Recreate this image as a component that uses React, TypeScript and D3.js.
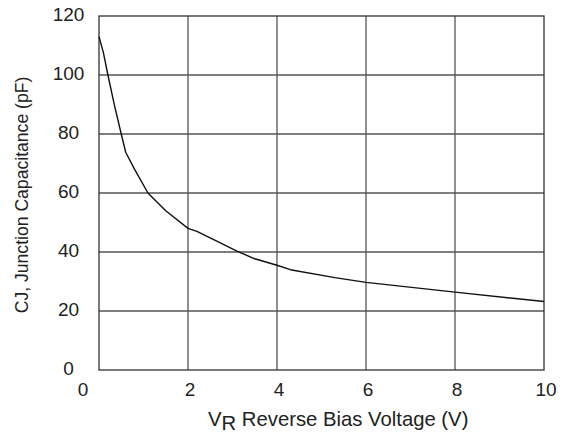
import { scaleLinear, line } from 'd3'

// values
const voltage = [0, 0.1, 0.2, 0.35, 0.5, 0.6, 0.8, 1.1, 1.5, 2, 2.2, 2.6, 3.1, 3.5, 4, 4.3, 5.3, 6, 8, 10]
const capacitance = [113, 107.5, 100, 89.5, 80, 73.8, 68, 60, 54, 48, 47, 44, 40.3, 37.7, 35.5, 34, 31.3, 29.7, 26.4, 23.2]
const xTicks = [0, 2, 4, 6, 8, 10]
const yTicks = [0, 20, 40, 60, 80, 100, 120]

const W = 565
const H = 439
const left = 99
const right = 544
const top = 16
const bottom = 370
const font = 'Liberation Sans, Arial, sans-serif'

const App = () => {
  const x = scaleLinear().domain([0, 10]).range([left, right])
  const y = scaleLinear().domain([0, 120]).range([bottom, top])
  const pts = voltage.map((v, i) => [v, capacitance[i]] as [number, number])
  const path = line<[number, number]>()
    .x((d) => x(d[0]))
    .y((d) => y(d[1]))(pts)

  return (
    <svg
      width={W}
      height={H}
      style={{ position: 'absolute', left: 0, top: 0, background: '#fff' }}
      fontFamily={font}
    >
      {/* grid */}
      {xTicks.slice(1, -1).map((t) => (
        <line key={'gx' + t} x1={x(t)} x2={x(t)} y1={top} y2={bottom} stroke="#555" strokeWidth={1.3} />
      ))}
      {yTicks.slice(1, -1).map((t) => (
        <line key={'gy' + t} x1={left} x2={right} y1={y(t)} y2={y(t)} stroke="#555" strokeWidth={1.3} />
      ))}
      <rect x={left} y={top} width={right - left} height={bottom - top} fill="none" stroke="#333" strokeWidth={1.3} />

      {/* curve */}
      <path d={path ?? ''} fill="none" stroke="#111" strokeWidth={1.4} strokeLinejoin="round" />

      {/* y tick labels */}
      {yTicks.map((t) => (
        <text key={'ty' + t} x={68.5} y={y(t) - 1.5} textAnchor="middle" dominantBaseline="central" fontSize={19} fill="#222">
          {t}
        </text>
      ))}
      {/* x tick labels */}
      {xTicks.map((t) => (
        <text
          key={'tx' + t}
          x={t === 0 ? x(t) - 16 : x(t) + 2}
          y={389}
          textAnchor="middle"
          dominantBaseline="central"
          fontSize={19}
          fill="#222"
        >
          {t}
        </text>
      ))}

      {/* axis titles */}
      <text x={208} y={426} fontSize={20.3} fill="#222">
        V<tspan dy={4}>R</tspan>
        <tspan dy={-4}> Reverse Bias Voltage (V)</tspan>
      </text>
      <text
        transform={`translate(28, 195) rotate(-90)`}
        textAnchor="middle"
        fontSize={17.6}
        fill="#222"
      >
        CJ, Junction Capacitance (pF)
      </text>
    </svg>
  )
}

export default App
